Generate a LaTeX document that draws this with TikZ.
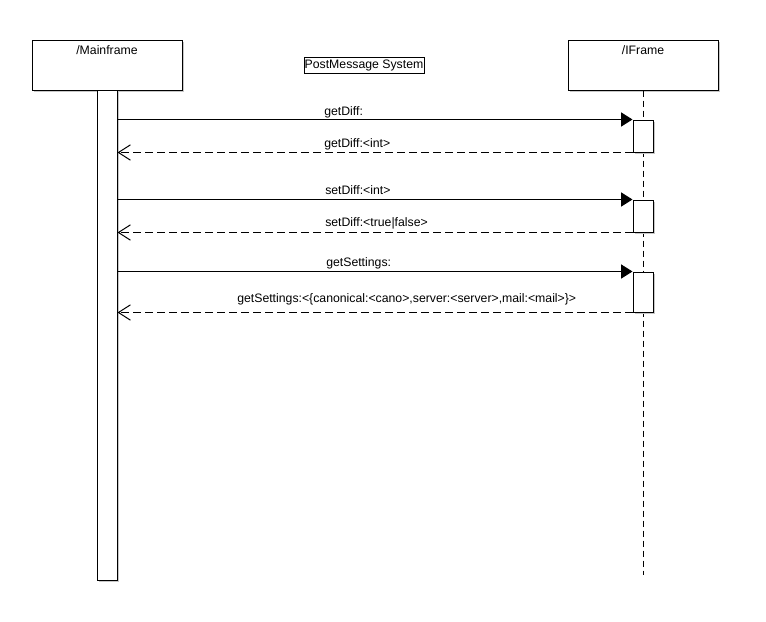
\documentclass[tikz,border=0pt]{standalone}
\usepackage{fontspec}
\setmainfont{Liberation Sans}
\usetikzlibrary{arrows.meta,shadows}
\begin{document}
\begin{tikzpicture}[x=0.75pt,y=-0.75pt,
  every node/.style={font=\fontsize{9.2pt}{10.5pt}\selectfont},
  shadowed/.style={drop shadow={shadow xshift=1.5pt,shadow yshift=-1.5pt,fill=black!22,opacity=1}},
  objbox/.style={draw,fill=white,line width=0.75pt,minimum width=112.5pt,minimum height=37.5pt,inner sep=0pt,shadowed},
  actbox/.style={draw,fill=white,line width=0.75pt,minimum width=15pt,inner sep=0pt,shadowed},
  lbl/.style={anchor=base west,inner sep=0pt},
  lifeline/.style={line width=0.75pt,dash pattern=on 4.5pt off 3pt},
  callmsg/.style={line width=0.75pt,-{Triangle[length=8.5pt,width=10.5pt]}},
  retmsg/.style={line width=0.75pt,dash pattern=on 6pt off 3pt,-{Straight Barb[length=9pt,width=11.5pt,line width=0.75pt]}},
  titlebox/.style={draw,line width=0.75pt,minimum width=90pt,minimum height=12pt,inner sep=0.3pt}
]
\useasboundingbox (0,0) rectangle (766,621);
% objects
\node[objbox] (mf) at (107,65) {};
\node (mft) at (107,50) {/Mainframe};
\node[objbox] (if) at (643,65) {};
\node (ift) at (643,50) {/IFrame};
\node[titlebox] (title) at (364,65) {PostMessage System};
% lifeline
\coordinate (ifend) at (643,575);
\draw[lifeline] (if.south) -- (ifend);
% activations
\node[actbox,minimum height=367.5pt] (mfbar) at (107,335) {};
\node[actbox,minimum height=24pt] (a1) at (643,136) {};
\node[actbox,minimum height=24pt] (a2) at (643,216) {};
\node[actbox,minimum height=30pt] (a3) at (643,292) {};
% messages
\draw[callmsg] (mfbar.east |- a1.north west) -- (a1.north west);
\draw[retmsg] (a1.south west) -- (mfbar.east |- a1.south west);
\draw[callmsg] (mfbar.east |- a2.north west) -- (a2.north west);
\draw[retmsg] (a2.south west) -- (mfbar.east |- a2.south west);
\draw[callmsg] (mfbar.east |- a3.north west) -- (a3.north west);
\draw[retmsg] (a3.south west) -- (mfbar.east |- a3.south west);
% labels
\node[lbl] (l1) at (324,115) {getDiff:};
\node[lbl] (l2) at (324,147) {getDiff:<int>};
\node[lbl] (l3) at (325,194) {setDiff:<int>};
\node[lbl] (l4) at (325,226) {setDiff:<true|false>};
\node[lbl] (l5) at (326,266) {getSettings:};
\node[lbl] (l6) at (237,302) {getSettings:<\{canonical:<cano>,server:<server>,mail:<mail>\}>};
\end{tikzpicture}
\end{document}
